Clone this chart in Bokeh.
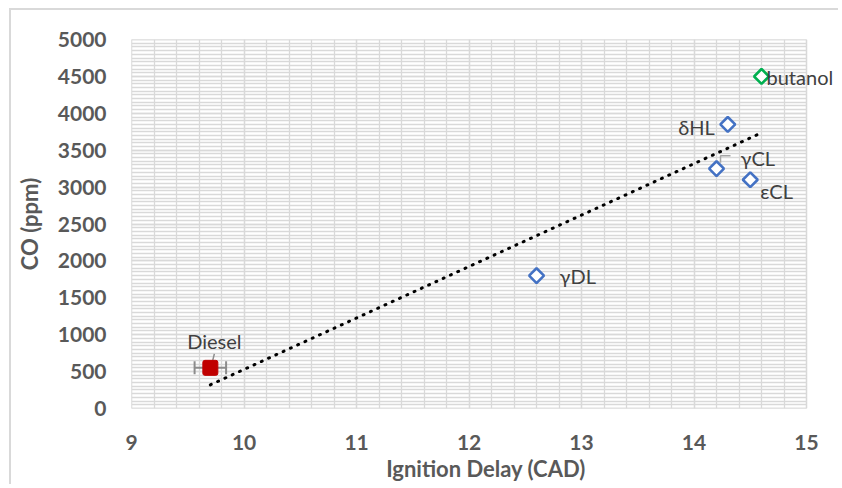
import numpy as np
from bokeh.plotting import figure
from bokeh.models import (ColumnDataSource, SingleIntervalTicker, Label, Whisker, Range1d)
from bokeh.embed import file_html
from bokeh.resources import INLINE

# ---- data ----
names = ["Diesel", "γDL", "γCL", "δHL", "εCL", "butanol"]
ignition_delay = [9.7, 12.6, 14.2, 14.3, 14.5, 14.6]
co_ppm = [550, 1800, 3250, 3850, 3100, 4500]
diesel_err = 0.14
x_min, x_max = 9, 15
y_min, y_max = 0, 5000
x_ticks_interval = 1
y_ticks_interval = 500

# ---- styling ----
FONT = "Lato"
LABEL_COLOR = "#404040"
TICK_COLOR = "#595959"
GRID = "#d9d9d9"
BLUE = "#4472C4"
GREEN = "#00B050"
RED = "#C00000"

# label placement (screen px offsets, align)
label_style = {
    "Diesel": (4, -27, "center"),
    "γDL": (23, 0, "left"),
    "γCL": (24, -11, "left"),
    "δHL": (-13, 3, "right"),
    "εCL": (10, 11, "left"),
    "butanol": (5, 1, "left"),
}

# frame extends to the right beyond x_max so labels are not clipped
extra_right = 34 / 112.5
p = figure(width=829, height=476, output_backend="svg", toolbar_location=None,
           x_range=Range1d(x_min - 0.001, x_max + extra_right), y_range=Range1d(y_min - 1, y_max + 1),
           min_border_left=120, min_border_right=0, min_border_top=29, min_border_bottom=78)
p.styles = {"margin-left": "9px", "margin-top": "8px",
            "border-left": "2px solid #d9d9d9", "border-top": "2px solid #d9d9d9"}
p.outline_line_color = None
p.background_fill_color = "white"
p.border_fill_color = "white"

xt = SingleIntervalTicker(interval=x_ticks_interval, num_minor_ticks=5)
yt = SingleIntervalTicker(interval=y_ticks_interval, num_minor_ticks=10)
p.xaxis.ticker = xt
p.yaxis.ticker = yt
p.xgrid.ticker = xt
p.ygrid.ticker = yt
p.xgrid.bounds = (x_min, x_max)
p.ygrid.cross_bounds = (x_min, x_max)
for g in (p.xgrid, p.ygrid):
    g.grid_line_color = GRID
    g.grid_line_width = 1.3
    g.minor_grid_line_color = GRID
    g.minor_grid_line_width = 1.3

for ax in (p.xaxis, p.yaxis):
    ax.axis_line_color = None
    ax.major_tick_line_color = None
    ax.minor_tick_line_color = None
    ax.major_label_text_font = FONT
    ax.major_label_text_font_style = "bold"
    ax.major_label_text_font_size = "21px"
    ax.major_label_text_color = TICK_COLOR
    ax.axis_label_text_font = FONT
    ax.axis_label_text_font_style = "bold"
    ax.axis_label_text_font_size = "22px"
    ax.axis_label_text_color = TICK_COLOR
p.xaxis.bounds = (x_min, x_max)
p.xaxis.major_label_standoff = 20
p.yaxis.major_label_standoff = 19
p.xaxis.axis_label = "Ignition Delay (CAD)"
p.yaxis.axis_label = "CO (ppm)"
p.xaxis.axis_label_standoff = 2
p.yaxis.axis_label_standoff = 12

# trendline (least squares over all points)
slope, intercept = np.polyfit(ignition_delay, co_ppm, 1)
tx = [min(ignition_delay), max(ignition_delay)]
ty = [slope * v + intercept for v in tx]
p.line(tx, ty, line_color="black", line_width=3, line_dash="1 7", line_cap="round")

# pixel-to-data conversion for leader lines
px_x = 6 / 675
px_y = 5000 / 369

# Diesel error bar
d = names.index("Diesel")
err_src = ColumnDataSource(dict(base=[co_ppm[d]], lower=[ignition_delay[d] - diesel_err],
                                upper=[ignition_delay[d] + diesel_err]))
w = Whisker(source=err_src, base="base", lower="lower", upper="upper", dimension="width",
            line_color="#8c8c8c", line_width=2)
w.upper_head.size = 13
w.lower_head.size = 13
w.upper_head.line_color = "#8c8c8c"
w.lower_head.line_color = "#8c8c8c"
w.upper_head.line_width = 2
w.lower_head.line_width = 2
p.add_layout(w)

# leader lines
dx, dy = ignition_delay[d], co_ppm[d]
p.line([dx + 1 * px_x, dx + 4 * px_x], [dy + 2 * px_y, dy + 14 * px_y], line_color="#8c8c8c", line_width=1.5)
g = names.index("γCL")
gx, gy = ignition_delay[g], co_ppm[g]
p.line([gx + 4 * px_x, gx + 4 * px_x, gx + 14 * px_x],
       [gy + 6 * px_y, gy + 13 * px_y, gy + 13 * px_y], line_color="#a6a6a6", line_width=1.5)

# markers
blue_idx = [i for i, n in enumerate(names) if n not in ("Diesel", "butanol")]
b = names.index("butanol")
p.scatter([ignition_delay[i] for i in blue_idx], [co_ppm[i] for i in blue_idx], marker="square",
          angle=np.pi / 4, size=10.5, fill_color="white", line_color=BLUE, line_width=2.6)
p.scatter([ignition_delay[b]], [co_ppm[b]], marker="square", angle=np.pi / 4, size=10.5,
          fill_color="white", line_color=GREEN, line_width=2.6)
p.rect([ignition_delay[d]], [co_ppm[d]], width=15, height=15, width_units="screen",
       height_units="screen", fill_color=RED, line_color=RED, border_radius=2)

# labels
for i, n in enumerate(names):
    xo, yo, align = label_style[n]
    p.add_layout(Label(x=ignition_delay[i], y=co_ppm[i], text=n, x_offset=xo, y_offset=-yo,
                       text_align=align, text_baseline="middle", text_font=FONT,
                       text_font_size="20px", text_color=LABEL_COLOR))

open("out.html", "w").write(file_html(p, INLINE))
